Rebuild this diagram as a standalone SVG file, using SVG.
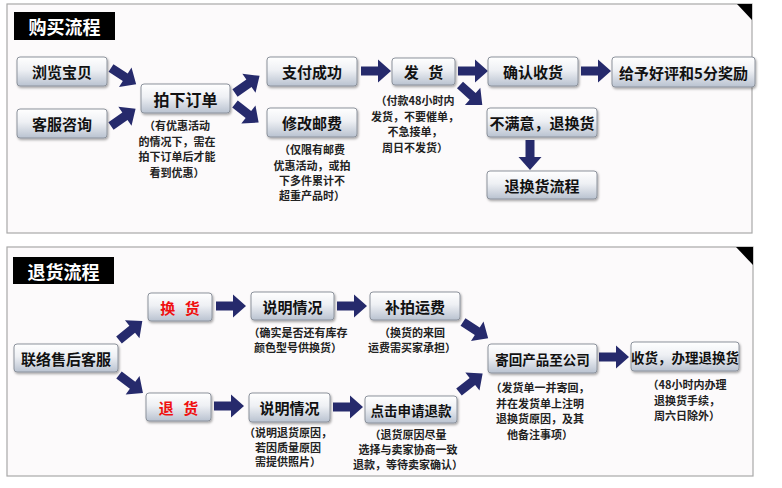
<svg xmlns="http://www.w3.org/2000/svg" xmlns:xlink="http://www.w3.org/1999/xlink" width="782" height="488" viewBox="0 0 782 488">
<defs>
<linearGradient id="btn" x1="0" y1="0" x2="0" y2="1">
<stop offset="0" stop-color="#ffffff"/>
<stop offset="0.45" stop-color="#eef0f4"/>
<stop offset="1" stop-color="#b9c2d0"/>
</linearGradient>
<filter id="sh" x="-10%" y="-20%" width="130%" height="150%">
<feDropShadow dx="1" dy="1.5" stdDeviation="0.8" flood-color="#000" flood-opacity="0.35"/>
</filter>
<path id="arr" d="M0,-4.5 L17,-4.5 L17,-11.5 L30,0 L17,11.5 L17,4.5 L0,4.5 Z"/>
</defs>
<style>
.panel{fill:#fcfafb;stroke:#a8a8a8;stroke-width:1.2}
.corner{fill:#000}
.title{fill:#000}
.ttxt{font-family:"Noto Sans CJK SC","Noto Sans",sans-serif;font-weight:700;font-size:18px;fill:#fff;text-anchor:middle;dominant-baseline:central}
.box{fill:url(#btn);stroke:#8c929c;stroke-width:1;filter:url(#sh)}
.lbl{font-family:"Noto Sans CJK SC","Noto Sans",sans-serif;font-weight:700;font-size:15px;fill:#111;text-anchor:middle;dominant-baseline:central}
.sm{font-size:13.5px}
.red{fill:#f01010;word-spacing:6px}
.sp{word-spacing:6px}
.note{font-family:"Noto Sans CJK SC","Noto Sans",sans-serif;font-weight:700;font-size:11px;fill:#222;text-anchor:middle;dominant-baseline:central}
.conn use{fill:#262a6c}
</style>
<rect width="782" height="488" fill="#ffffff"/>
<g id="panel-buy">
<rect class="panel" x="7" y="4" width="745" height="229"/>
<polygon class="corner" points="737,4 752,4 752,20"/>
<rect class="title" x="14" y="12" width="101" height="28"/>
<text class="ttxt" x="64.5" y="26">购买流程</text>
</g>
<g id="panel-return">
<rect class="panel" x="7" y="247" width="746" height="229"/>
<polygon class="corner" points="736,247 753,247 753,265"/>
<rect class="title" x="13" y="257" width="101" height="27"/>
<text class="ttxt" x="63.5" y="270.5">退货流程</text>
</g>
<g class="conn" id="connectors">
<use href="#arr" transform="translate(111,68) rotate(33)"/>
<use href="#arr" transform="translate(111,126) rotate(-35)"/>
<use href="#arr" transform="translate(235,93) rotate(-35)"/>
<use href="#arr" transform="translate(235,104) rotate(38)"/>
<use href="#arr" transform="translate(361,71)"/>
<use href="#arr" transform="translate(458,71)"/>
<use href="#arr" transform="translate(460,85) rotate(42)"/>
<use href="#arr" transform="translate(581,71)"/>
<use href="#arr" transform="translate(530,140) rotate(90)"/>
<use href="#arr" transform="translate(119,340) rotate(-39)"/>
<use href="#arr" transform="translate(119,375) rotate(37)"/>
<use href="#arr" transform="translate(216,306)"/>
<use href="#arr" transform="translate(214,406)"/>
<use href="#arr" transform="translate(337,306)"/>
<use href="#arr" transform="translate(463,322) rotate(33)"/>
<use href="#arr" transform="translate(333,407)"/>
<use href="#arr" transform="translate(459,392) rotate(-38)"/>
<use href="#arr" transform="translate(599,357)"/>
</g>
<g id="n-browse"><rect class="box" x="17" y="57" width="90" height="29" rx="3"/><text class="lbl" x="62" y="71.5">浏览宝贝</text></g>
<g id="n-consult"><rect class="box" x="17" y="109" width="90" height="29" rx="3"/><text class="lbl" x="62" y="123.5">客服咨询</text></g>
<g id="n-order"><rect class="box" x="141" y="84" width="89" height="29" rx="3"/><text class="lbl" x="185.5" y="98.5" style="font-size:16px">拍下订单</text>
<text class="note" x="177" y="125">（有优惠活动</text><text class="note" x="177" y="140.5">的情况下，需在</text><text class="note" x="177" y="156">拍下订单后才能</text><text class="note" x="177" y="171.5">看到优惠）</text></g>
<g id="n-pay"><rect class="box" x="267" y="57" width="90" height="29" rx="3"/><text class="lbl" x="312" y="71.5">支付成功</text></g>
<g id="n-postage"><rect class="box" x="267" y="108" width="90" height="29" rx="3"/><text class="lbl" x="312" y="122.5">修改邮费</text>
<text class="note" x="312" y="149">（仅限有邮费</text><text class="note" x="312" y="164.5">优惠活动，或拍</text><text class="note" x="312" y="180">下多件累计不</text><text class="note" x="312" y="195">超重产品时）</text></g>
<g id="n-ship"><rect class="box" x="392" y="58" width="63" height="27" rx="3"/><text class="lbl sp" x="423.5" y="71.5">发 货</text>
<text class="note" x="415" y="100">（付款48小时内</text><text class="note" x="415" y="115.5">发货，不要催单，</text><text class="note" x="415" y="131">不急接单，</text><text class="note" x="415" y="146.5">周日不发货）</text></g>
<g id="n-confirm"><rect class="box" x="488" y="57" width="90" height="29" rx="3"/><text class="lbl" x="533" y="71.5">确认收货</text></g>
<g id="n-review"><rect class="box" x="612" y="57" width="143" height="30" rx="3"/><text class="lbl" x="683.5" y="72">给予好评和5分奖励</text></g>
<g id="n-unhappy"><rect class="box" x="487" y="108" width="110" height="29" rx="3"/><text class="lbl" x="542" y="122.5">不满意，退换货</text></g>
<g id="n-flow"><rect class="box" x="487" y="171" width="110" height="28" rx="3"/><text class="lbl" x="542" y="185">退换货流程</text></g>
<g id="n-contact"><rect class="box" x="14" y="344" width="104" height="28" rx="3"/><text class="lbl" x="66" y="358">联络售后客服</text></g>
<g id="n-exchange"><rect class="box" x="148" y="293" width="64" height="28" rx="3"/><text class="lbl red" x="180" y="307">换 货</text></g>
<g id="n-refund"><rect class="box" x="146" y="393" width="65" height="28" rx="3"/><text class="lbl red" x="178.5" y="407">退 货</text></g>
<g id="n-explain1"><rect class="box" x="251" y="292" width="83" height="28" rx="3"/><text class="lbl" x="292.5" y="306">说明情况</text>
<text class="note" x="298" y="332">（确实是否还有库存</text><text class="note" x="298" y="347">颜色型号供换货）</text></g>
<g id="n-fee"><rect class="box" x="370" y="292" width="90" height="28" rx="3"/><text class="lbl" x="415" y="306">补拍运费</text>
<text class="note" x="412" y="332">（换货的来回</text><text class="note" x="412" y="347">运费需买家承担）</text></g>
<g id="n-explain2"><rect class="box" x="249" y="393" width="81" height="29" rx="3"/><text class="lbl" x="289.5" y="407.5">说明情况</text>
<text class="note" x="288" y="432">（说明退货原因，</text><text class="note" x="288" y="446.5">若因质量原因</text><text class="note" x="288" y="461">需提供照片）</text></g>
<g id="n-apply"><rect class="box" x="365" y="396" width="92" height="27" rx="3"/><text class="lbl sm" x="411" y="409.5">点击申请退款</text>
<text class="note" x="408" y="433.5">（退货原因尽量</text><text class="note" x="408" y="448.5">选择与卖家协商一致</text><text class="note" x="408" y="463.5">退款，等待卖家确认）</text></g>
<g id="n-sendback"><rect class="box" x="488" y="344" width="109" height="29" rx="3"/><text class="lbl sm" x="542.5" y="358.5">寄回产品至公司</text>
<text class="note" x="540" y="387">（发货单一并寄回，</text><text class="note" x="540" y="402.5">并在发货单上注明</text><text class="note" x="540" y="418">退换货原因，及其</text><text class="note" x="540" y="433.5">他备注事项）</text></g>
<g id="n-receive"><rect class="box" x="631" y="342" width="108" height="29" rx="3"/><text class="lbl sm" x="685" y="356.5">收货，办理退换货</text>
<text class="note" x="687" y="384">（48小时内办理</text><text class="note" x="687" y="400">退换货手续，</text><text class="note" x="687" y="415">周六日除外）</text></g>
</svg>
